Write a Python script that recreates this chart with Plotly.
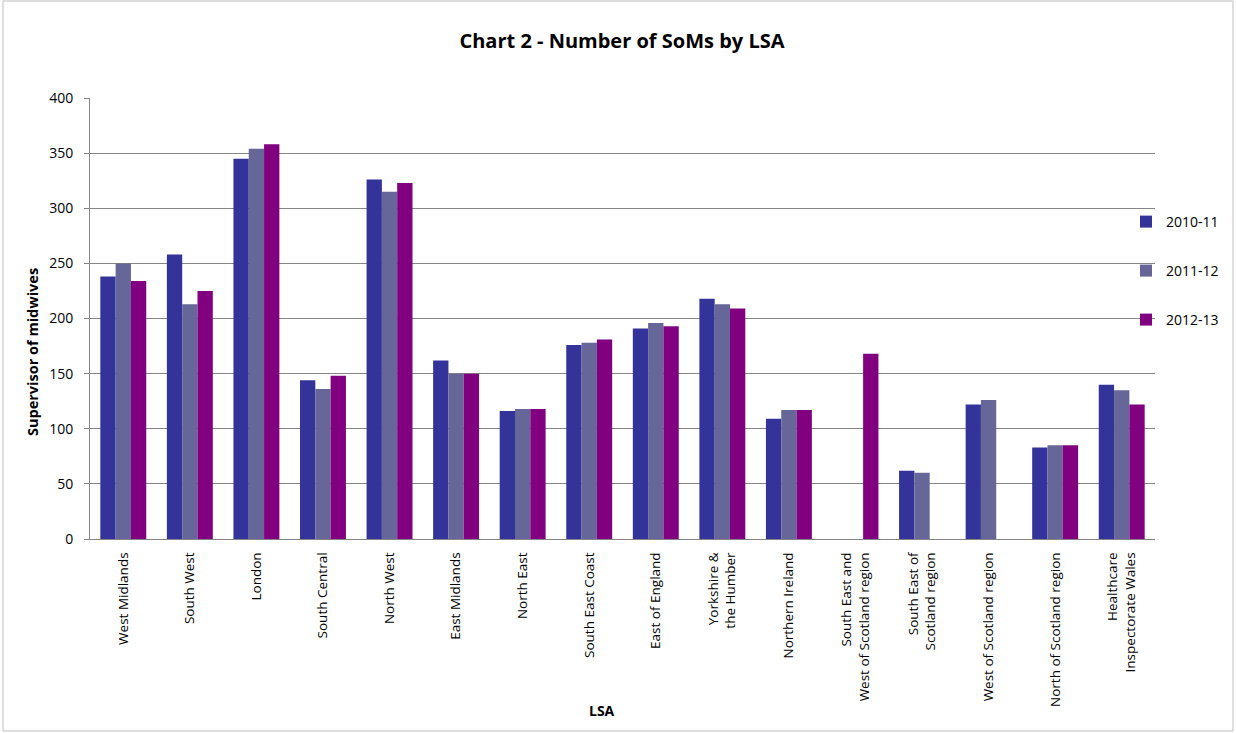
import plotly.graph_objects as go

categories = ["West Midlands", "South West", "London", "South Central", "North West",
              "East Midlands", "North East", "South East Coast", "East of England",
              "Yorkshire &<br>the Humber", "Northern Ireland",
              "South East and<br>West of Scotland region", "South East of<br>Scotland region",
              "West of Scotland region", "North of Scotland region",
              "Healthcare<br>Inspectorate Wales"]
s2010 = [238, 258, 345, 144, 326, 162, 116, 176, 191, 218, 109, None, 62, 122, 83, 140]
s2011 = [250, 213, 354, 136, 315, 150, 118, 178, 196, 213, 117, None, 60, 126, 85, 135]
s2012 = [234, 225, 358, 148, 323, 150, 118, 181, 193, 209, 117, 168, None, None, 85, 122]
series_names = ["2010-11", "2011-12", "2012-13"]
colors = ["#333399", "#666699", "#800080"]

W, H = 1236, 733
L, R, T, B = 90, 1155, 98, 539
pw, ph = R - L, B - T

font = "Open Sans, Liberation Sans, sans-serif"
fig = go.Figure()
legends = ["legend", "legend2", "legend3"]
for name, vals, col, lg in zip(series_names, [s2010, s2011, s2012], colors, legends):
    fig.add_trace(go.Bar(x=categories, y=vals, name=name, marker_color=col,
                         marker_line_width=0, legend=lg))

legend_common = dict(font=dict(family=font, size=14, color="#000"),
                     bgcolor="rgba(0,0,0,0)", xanchor="left", yanchor="middle",
                     itemwidth=30, tracegroupgap=0)
lx = (1126 - L) / pw
fig.update_layout(
    width=W, height=H,
    paper_bgcolor="white", plot_bgcolor="white",
    margin=dict(l=L, r=W - R, t=T, b=H - B, autoexpand=False),
    title=dict(text="<b>Chart 2 - Number of SoMs by LSA</b>", x=(622 - L) / pw, xref="paper",
               xanchor="center", y=1 - 41 / H, yref="container", yanchor="middle",
               font=dict(family=font, size=20, color="#000")),
    barmode="group", bargap=0.31, bargroupgap=0,
    legend=dict(x=lx, y=(B - 222) / ph, **legend_common),
    legend2=dict(x=lx, y=(B - 271) / ph, **legend_common),
    legend3=dict(x=lx, y=(B - 320) / ph, **legend_common),
    xaxis=dict(tickangle=-90, tickfont=dict(family=font, size=13.5, color="#000"),
               showline=True, linecolor="#868686", linewidth=1, ticks="",
               ticklabelstandoff=7),
    yaxis=dict(range=[0, 400], dtick=50, showgrid=True, gridcolor="#868686", gridwidth=1,
               showline=True, linecolor="#868686", linewidth=1, ticks="outside",
               ticklen=5, tickcolor="#868686", zeroline=False, ticklabelstandoff=8,
               tickfont=dict(family=font, size=14, color="#000")),
    showlegend=True,
    annotations=[
        dict(text="<b>LSA</b>", xref="paper", yref="paper", x=(602 - L) / pw,
             y=-(710 - B) / ph, xanchor="center", yanchor="middle", showarrow=False,
             font=dict(family=font, size=14, color="#000")),
        dict(text="<b>Supervisor of midwives</b>", xref="paper", yref="paper",
             x=-(L - 32) / pw, y=(B - 352) / ph, xanchor="center", yanchor="middle",
             textangle=-90, showarrow=False,
             font=dict(family=font, size=14.5, color="#000")),
    ],
)
fig.add_shape(type="rect", xref="paper", yref="paper", x0=-(L - 3) / pw, x1=(1233 - L) / pw,
              y0=-(731 - B) / ph, y1=(B - 1) / ph, line=dict(color="#bfbfbf", width=1))
fig.write_html("out.html")
